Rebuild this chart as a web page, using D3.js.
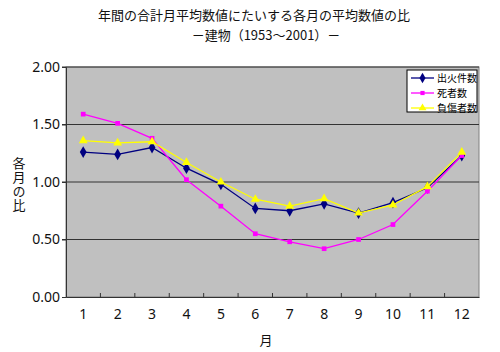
<!DOCTYPE html>
<html>
<head>
<meta charset="utf-8">
<script src="https://cdn.jsdelivr.net/npm/d3@7"></script>
<style>
  body { margin: 0; background: #fff; }
  svg { font-family: "Noto Sans CJK JP", "Noto Sans", sans-serif; }
</style>
</head>
<body>
<script>
// months on x axis
const months = ["1", "2", "3", "4", "5", "6", "7", "8", "9", "10", "11", "12"];
// ratio of monthly average to yearly average
const fires = [1.26, 1.24, 1.30, 1.12, 0.98, 0.77, 0.75, 0.81, 0.73, 0.82, 0.95, 1.23];
const deaths = [1.59, 1.51, 1.38, 1.02, 0.79, 0.55, 0.48, 0.42, 0.50, 0.63, 0.92, 1.23];
const injuries = [1.36, 1.34, 1.35, 1.17, 1.00, 0.85, 0.79, 0.855, 0.73, 0.80, 0.96, 1.26];
const seriesNames = ["出火件数", "死者数", "負傷者数"];
const yTicks = [0, 0.5, 1.0, 1.5, 2.0];

(function() {
    const width = 500, height = 352;
    const margin = {top: 67, right: 21, bottom: 55, left: 66};
    const w = width - margin.left - margin.right,
          h = height - margin.top - margin.bottom;

    const svg = d3.select("body").append("svg")
        .attr("width", width)
        .attr("height", height);

    // title
    svg.append("text")
        .attr("x", 254).attr("y", 20)
        .attr("text-anchor", "middle")
        .attr("font-size", 13)
        .attr("fill", "#111")
        .text("年間の合計月平均数値にたいする各月の平均数値の比");
    svg.append("text")
        .attr("x", 266).attr("y", 40)
        .attr("text-anchor", "middle")
        .attr("font-size", 13)
        .attr("fill", "#111")
        .text("－建物（1953〜2001）－");

    const g = svg.append("g")
        .attr("transform", "translate(" + margin.left + "," + margin.top + ")");

    const x = d3.scaleBand().domain(months).range([0, w]);
    const y = d3.scaleLinear().domain([0, 2]).range([h, 0]);

    // plot background
    g.append("rect")
        .attr("width", w).attr("height", h)
        .attr("fill", "#c0c0c0")
        .attr("stroke", "#808080");

    // gridlines
    g.selectAll(".grid").data(yTicks.filter(d => d > 0)).enter()
        .append("line")
        .attr("x1", -4).attr("x2", w)
        .attr("y1", d => y(d)).attr("y2", d => y(d))
        .attr("stroke", "#333").attr("stroke-width", 1);

    // y axis
    const yAxis = g.append("g")
        .call(d3.axisLeft(y).tickValues(yTicks).tickFormat(d3.format(".2f")).tickSize(4));
    yAxis.select(".domain").attr("stroke", "#333");
    yAxis.selectAll("line").attr("stroke", "#333");
    yAxis.selectAll("text").attr("font-size", 14).attr("fill", "#111")
        .attr("font-family", "Noto Sans, sans-serif").attr("x", -6);

    // x axis with inside ticks between categories
    const xAxis = g.append("g")
        .attr("transform", "translate(0," + h + ")")
        .call(d3.axisBottom(x).tickSize(0).tickPadding(12));
    xAxis.select(".domain").attr("stroke", "#333");
    xAxis.selectAll("text").attr("font-size", 14).attr("fill", "#111")
        .attr("font-family", "Noto Sans, sans-serif");
    g.selectAll(".xtick").data(months.slice(1)).enter()
        .append("line")
        .attr("x1", d => x(d)).attr("x2", d => x(d))
        .attr("y1", h).attr("y2", h - 4)
        .attr("stroke", "#333");

    // axis titles
    svg.append("text")
        .attr("x", 266).attr("y", 345)
        .attr("text-anchor", "middle")
        .attr("font-size", 13).attr("fill", "#111")
        .text("月");
    // vertical y title, one text element
    svg.append("text")
        .attr("x", 19).attr("y", 157)
        .attr("font-size", 13).attr("fill", "#111")
        .style("writing-mode", "vertical-rl")
        .style("text-orientation", "upright")
        .style("letter-spacing", "1px")
        .text("各月の比");

    const series = [
        {name: seriesNames[0], values: fires, color: "#000080", shape: d3.symbolDiamond, size: 40},
        {name: seriesNames[1], values: deaths, color: "#ff00ff", shape: d3.symbolSquare, size: 22},
        {name: seriesNames[2], values: injuries, color: "#ffff00", shape: d3.symbolTriangle, size: 34}
    ];

    const line = d3.line()
        .x((d, i) => x(months[i]) + x.bandwidth() / 2)
        .y(d => y(d));

    series.forEach(s => {
        g.append("path")
            .datum(s.values)
            .attr("fill", "none")
            .attr("stroke", s.color)
            .attr("stroke-width", 1.3)
            .attr("d", line);
        g.selectAll(null).data(s.values).enter()
            .append("path")
            .attr("d", d3.symbol().type(s.shape).size(s.size))
            .attr("transform", (d, i) => "translate(" + (x(months[i]) + x.bandwidth() / 2) + "," + y(d) + ")")
            .attr("fill", s.color);
    });

    // legend
    const lg = svg.append("g").attr("transform", "translate(407,70)");
    lg.append("rect")
        .attr("width", 70).attr("height", 42)
        .attr("fill", "#fff").attr("stroke", "#000");
    series.forEach((s, i) => {
        const yy = 8 + i * 15;
        lg.append("line")
            .attr("x1", 4).attr("x2", 27)
            .attr("y1", yy).attr("y2", yy)
            .attr("stroke", s.color).attr("stroke-width", 1.3);
        lg.append("path")
            .attr("d", d3.symbol().type(s.shape).size(s.size * 0.8))
            .attr("transform", "translate(15.5," + yy + ")")
            .attr("fill", s.color);
        lg.append("text")
            .attr("x", 30).attr("y", yy + 4)
            .attr("font-size", 10).attr("fill", "#000")
            .text(s.name);
    });
})();
</script>
</body>
</html>
